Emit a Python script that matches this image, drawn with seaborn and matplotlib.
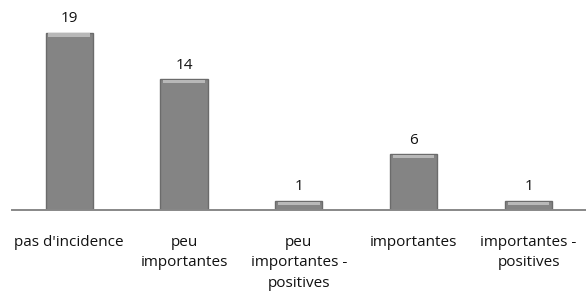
import matplotlib
matplotlib.use("Agg")
import matplotlib.pyplot as plt
import seaborn as sns
import pandas as pd
from matplotlib.patches import Rectangle

categories = ["pas d'incidence", "peu\nimportantes", "peu\nimportantes -\npositives",
              "importantes", "importantes -\npositives"]
counts = [19, 14, 1, 6, 1]

df = pd.DataFrame({"cat": categories, "n": counts})

sns.set_style("white")
plt.rcParams['font.family'] = ['Open Sans', 'DejaVu Sans']

fig = plt.figure(figsize=(5.86, 2.93), dpi=100)
ax = fig.add_axes([0.02, 0.283, 0.98, 0.717])

sns.barplot(data=df, x="cat", y="n", color="#848484", width=0.41,
            edgecolor="#6b6b6b", linewidth=1.0, saturation=1, ax=ax)

# bevel highlight on top of each bar
for p in ax.patches[:len(counts)]:
    px = p.get_x()
    pw = p.get_width()
    ph = p.get_height()
    hl = min(0.35, ph * 0.35)
    ax.add_patch(Rectangle((px + pw * 0.06, ph - hl * 1.25), pw * 0.88, hl,
                           facecolor="#b8b8b8", edgecolor="none", zorder=3))

for i, v in enumerate(counts):
    ax.annotate(str(v), (i, v), xytext=(0, 7.5), textcoords="offset points",
                ha="center", va="baseline", fontsize=11, color="#111111")

ax.set_xlim(-0.5, 4.5)
ax.set_ylim(0, 22.5)
ax.set_xlabel("")
ax.set_ylabel("")
ax.set_yticks([])
ax.tick_params(axis="x", length=0, pad=18, labelsize=11, labelcolor="#111111")
for lbl in ax.get_xticklabels():
    lbl.set_linespacing(1.48)
    lbl.set_verticalalignment("top")

for s in ["top", "left", "right"]:
    ax.spines[s].set_visible(False)
ax.spines["bottom"].set_color("#888888")
ax.spines["bottom"].set_linewidth(1.4)

fig.savefig("out.png", dpi=100)
